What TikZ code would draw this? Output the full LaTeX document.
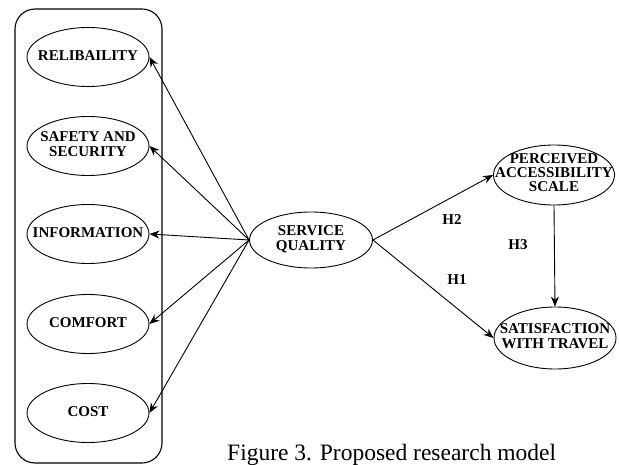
\documentclass[tikz,border=0pt]{standalone}
\usepackage{fontspec}
\setmainfont{Liberation Serif}
\usetikzlibrary{shapes.geometric,arrows.meta}
\newcommand\zwtext[1]{\makebox[0pt][c]{\raisebox{-2.5pt}{\begin{tabular}{@{}c@{}}#1\end{tabular}}}}
\begin{document}
\begin{tikzpicture}[x=1pt,y=-1pt,
  constr/.style={ellipse,draw,line width=0.9pt,minimum width=122pt,minimum height=59pt,inner sep=0pt,
    font=\bfseries\fontsize{15}{15.5}\selectfont},
  conn/.style={line width=0.9pt,-{Stealth[length=10pt,width=8pt]}},
  hlab/.style={font=\bfseries\fontsize{15}{15.5}\selectfont}]
\useasboundingbox (0,0) rectangle (619,465);
\draw[line width=1.1pt,rounded corners=20pt] (15,9) rectangle (162,463);
\node[constr] (rel) at (88,57) {\zwtext{RELIBAILITY}};
\node[constr] (saf) at (88,146) {\zwtext{SAFETY AND\\SECURITY}};
\node[constr] (inf) at (88,234) {\zwtext{INFORMATION}};
\node[constr] (com) at (88,324) {\zwtext{COMFORT}};
\node[constr] (cost) at (88,413) {\zwtext{COST}};
\node[constr,minimum width=123pt,minimum height=56pt] (sq) at (311,240) {\zwtext{SERVICE\\QUALITY}};
\node[constr,minimum width=121pt,minimum height=60pt,font=\bfseries\fontsize{15}{14}\selectfont] (pas) at (554,175) {\zwtext{PERCEIVED\\ACCESSIBILITY\\SCALE}};
\node[constr,minimum width=122pt,minimum height=62pt] (swt) at (555,338) {\zwtext{SATISFACTION\\WITH TRAVEL}};
\foreach \t in {rel,saf,inf,com,cost} \draw[conn] (sq.west) -- (\t.east);
\draw[conn] (sq.east) -- (pas.west);
\draw[conn] (sq.east) -- (swt.west);
\draw[conn] (pas.south) -- (swt.north);
\node[hlab] (h2) at (452,220) {H2};
\node[hlab] (h1) at (457,280) {H1};
\node[hlab] (h3) at (518,245) {H3};
\node[font=\fontsize{23.5}{26}\selectfont,anchor=base west,inner sep=0pt] (cap) at (227,460) {Figure 3. Proposed research model};
\end{tikzpicture}
\end{document}
